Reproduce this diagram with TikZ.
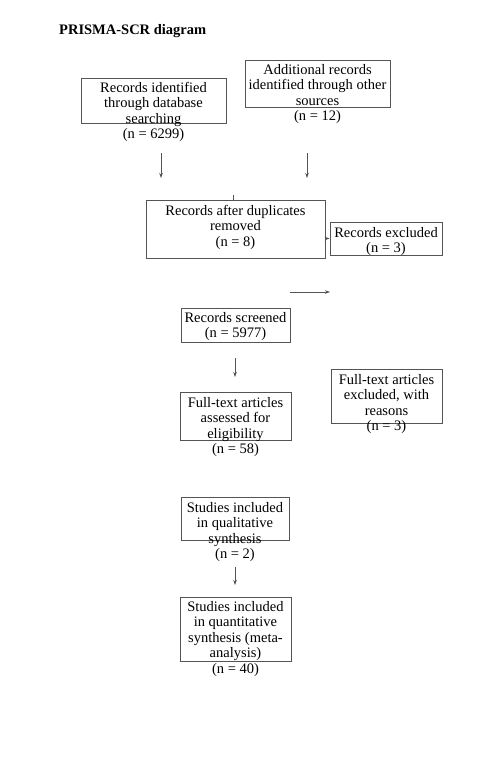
\documentclass[tikz,border=0pt]{standalone}
\usepackage{fontspec}
\setmainfont{Liberation Serif}
\usetikzlibrary{arrows.meta}
\definecolor{boxgray}{rgb}{0.33, 0.33, 0.33}

\begin{document}
\begin{tikzpicture}[x=1pt,y=-1pt,
  box/.style={draw=boxgray, line width=0.8pt, inner sep=0pt},
  txt/.style={align=center, inner sep=0pt, anchor=north, font=\fontsize{14.5}{15.5}\selectfont},
  arr/.style={draw=boxgray, line width=0.6pt, -{Stealth[length=5pt, width=3.5pt]}}]

% Page frame
\useasboundingbox[fill=white] (0,0) rectangle (499,763);

% Title
\node[anchor=base west, inner sep=0pt, font=\fontsize{14.5}{15.5}\selectfont\bfseries] (title) at (59,34) {PRISMA-SCR diagram};

% Identification boxes
\node[box, minimum width=145pt, minimum height=45pt] (db) at (153.5,100.5) {};
\node[txt] (dbtxt) at (153.5,82) {Records identified\\through database\\searching\\(n = 6299)};

\node[box, minimum width=145pt, minimum height=47pt] (other) at (317.5,83.5) {};
\node[txt] (othertxt) at (317.5,64) {Additional records\\identified through other\\sources\\(n = 12)};

% Duplicates removed and excluded
\node[box, minimum width=179pt, minimum height=58pt] (dup) at (235.5,229) {};
\node[txt] (duptxt) at (235.5,205) {Records after duplicates\\removed\\(n = 8)};

\node[box, minimum width=112pt, minimum height=33pt] (excl) at (386,238.5) {};
\node[txt] (excltxt) at (386,227) {Records excluded\\(n = 3)};

% Screening
\node[box, minimum width=109pt, minimum height=34pt] (scr) at (235.5,325) {};
\node[txt] (scrtxt) at (235.5,312) {Records screened\\(n = 5977)};

% Eligibility
\node[box, minimum width=111pt, minimum height=48pt] (full) at (235.5,416) {};
\node[txt] (fulltxt) at (235.5,397) {Full-text articles\\assessed for\\eligibility\\(n = 58)};

\node[box, minimum width=111pt, minimum height=54pt] (fullex) at (386.5,396) {};
\node[txt] (fullextxt) at (386.5,374) {Full-text articles\\excluded, with\\reasons\\(n = 3)};

% Included
\node[box, minimum width=108pt, minimum height=43pt] (qual) at (235,518.5) {};
\node[txt] (qualtxt) at (235,502) {Studies included\\in qualitative\\synthesis\\(n = 2)};

\node[box, minimum width=111pt, minimum height=64pt] (quant) at (235.5,629) {};
\node[txt] (quanttxt) at (235.5,601) {Studies included\\in quantitative\\synthesis (meta-\\analysis)\\(n = 40)};

% Arrow ends
\coordinate (a1s) at (161,153);
\coordinate (a1e) at (161,178);
\coordinate (a2s) at (307,153);
\coordinate (a2e) at (307,178);
\coordinate (tick) at (233,195);
\coordinate (a3s) at (290,292);
\coordinate (a3e) at (330,292);
\coordinate (a4s) at (235,358);
\coordinate (a4e) at (235,377);
\coordinate (a5s) at (235,567);
\coordinate (a5e) at (235,585);

% Arrows
\draw[arr] (a1s) -- (a1e);
\draw[arr] (a2s) -- (a2e);
\draw[draw=boxgray, line width=0.6pt] (tick) -- (tick |- dup.north);
\draw[arr] (dup.east |- excl.west) -- (excl.west);
\draw[arr] (a3s) -- (a3e);
\draw[arr] (a4s) -- (a4e);
\draw[arr] (a5s) -- (a5e);

\end{tikzpicture}
\end{document}
